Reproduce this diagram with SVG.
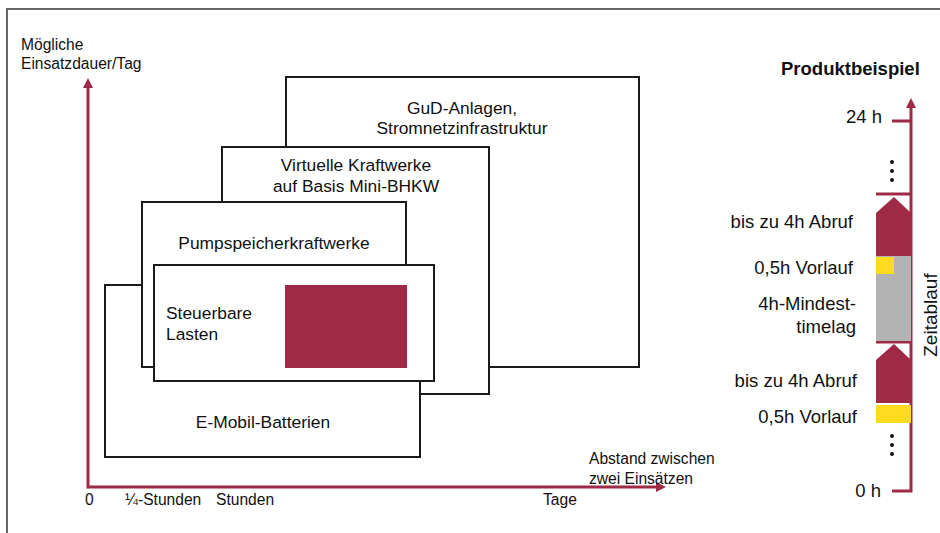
<svg xmlns="http://www.w3.org/2000/svg" width="940" height="533" viewBox="0 0 940 533">
<style>
text{font-family:"Liberation Sans",Arial,Helvetica,sans-serif;fill:#111}
.box{fill:#fff;stroke:#1a1a1a;stroke-width:2}
.lbl{font-size:17.4px}
.ax{font-size:15.6px}
.rl{font-size:18.5px;text-anchor:end}
.axis{fill:none;stroke:#9e2a46;stroke-width:3}
.red{fill:#9e2a46}
.grey{fill:#b3b3b3}
.yel{fill:#ffdb1f}
.dot{fill:#111}
</style>
<defs>
<marker id="ah" viewBox="0 0 10 10" refX="2" refY="5" markerWidth="10" markerHeight="10" markerUnits="userSpaceOnUse" orient="auto-start-reverse">
<path d="M0,0 L10,5 L0,10 z" fill="#9e2a46"/>
</marker>
</defs>
<rect x="7" y="9" width="1000" height="600" fill="#fff" stroke="#666" stroke-width="2"/>

<g id="gud">
<rect class="box" x="286" y="77" width="353" height="290"/>
<text class="lbl" x="462" y="114" text-anchor="middle">GuD-Anlagen,</text>
<text class="lbl" x="462" y="134" text-anchor="middle">Stromnetzinfrastruktur</text>
</g>
<g id="virtuell">
<rect class="box" x="222" y="147" width="267" height="247"/>
<text class="lbl" x="356" y="171" text-anchor="middle">Virtuelle Kraftwerke</text>
<text class="lbl" x="356" y="192" text-anchor="middle">auf Basis Mini-BHKW</text>
</g>
<g id="emobil">
<rect class="box" x="105" y="285" width="315" height="172"/>
<text class="lbl" x="263" y="428" text-anchor="middle">E-Mobil-Batterien</text>
</g>
<g id="pump">
<rect class="box" x="142" y="202" width="264" height="165"/>
<text class="lbl" x="274" y="249" text-anchor="middle">Pumpspeicherkraftwerke</text>
</g>
<g id="steuerbar">
<rect class="box" x="154" y="265" width="280" height="116"/>
<text class="lbl" x="166" y="319">Steuerbare</text>
<text class="lbl" x="166" y="340">Lasten</text>
<rect class="red" x="285" y="285" width="122" height="83"/>
</g>

<g id="connectors">
<path class="axis" d="M88,86 V487 H658" marker-start="url(#ah)" marker-end="url(#ah)"/>
<path class="axis" d="M911,106 V491 H892" marker-start="url(#ah)"/>
<path class="axis" d="M892,121 H911"/>
<path class="axis" d="M876,194 H911"/>
<path class="axis" d="M876,342 H911" stroke-width="2"/>
</g>

<g id="axis-labels">
<text class="ax" x="21" y="50">Mögliche</text>
<text class="ax" x="21" y="69">Einsatzdauer/Tag</text>
<text class="ax" x="589" y="464">Abstand zwischen</text>
<text class="ax" x="589" y="484">zwei Einsätzen</text>
<text class="ax" x="85" y="505">0</text>
<text class="ax" x="125" y="505">¼-Stunden</text>
<text class="ax" x="216" y="505">Stunden</text>
<text class="ax" x="543" y="505">Tage</text>
</g>

<g id="produktbeispiel">
<text x="781" y="75" font-size="18.5" font-weight="bold">Produktbeispiel</text>
<text class="rl" x="882" y="123">24 h</text>
<text class="rl" x="881" y="497">0 h</text>
<circle class="dot" cx="892" cy="162" r="2"/>
<circle class="dot" cx="892" cy="171" r="2"/>
<circle class="dot" cx="892" cy="180" r="2"/>
<circle class="dot" cx="892" cy="436" r="2"/>
<circle class="dot" cx="892" cy="445" r="2"/>
<circle class="dot" cx="892" cy="454" r="2"/>
<polygon class="red" points="876,213 894,197 911,213 911,256 876,256"/>
<rect class="grey" x="876" y="256" width="35" height="85"/>
<rect class="yel" x="876" y="257" width="18" height="17"/>
<polygon class="red" points="876,360 894,344 911,360 911,403 876,403"/>
<rect class="yel" x="876" y="405" width="35" height="18"/>
<text class="rl" x="853" y="228">bis zu 4h Abruf</text>
<text class="rl" x="853" y="274">0,5h Vorlauf</text>
<text class="rl" x="856" y="310">4h-Mindest-</text>
<text class="rl" x="856" y="333">timelag</text>
<text class="rl" x="857" y="387">bis zu 4h Abruf</text>
<text class="rl" x="857" y="423">0,5h Vorlauf</text>
<text x="937" y="315" font-size="19" text-anchor="middle" transform="rotate(-90 937 315)">Zeitablauf</text>
</g>
</svg>
